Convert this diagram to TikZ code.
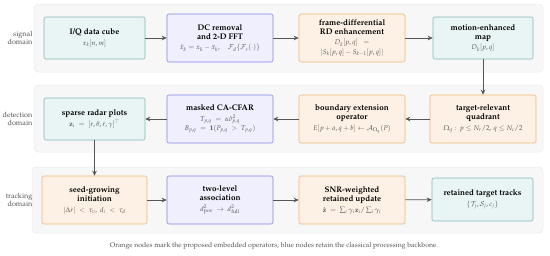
\documentclass[tikz,border=0pt]{standalone}
\usepackage[T1]{fontenc}
\usepackage{amsmath,amssymb}
\usepackage{mathpazo}
\usetikzlibrary{arrows.meta}
\definecolor{tealB}{HTML}{86B8B9}
\definecolor{tealF}{HTML}{E9F4F4}
\definecolor{purB}{HTML}{8585EE}
\definecolor{purF}{HTML}{EFEFFD}
\definecolor{orB}{HTML}{F1B57C}
\definecolor{orF}{HTML}{FDF1E5}
\definecolor{bandF}{HTML}{F7F7F7}
\definecolor{bandB}{HTML}{EAEAEA}
\definecolor{txtG}{HTML}{555555}
\definecolor{arrG}{HTML}{555555}
\tikzset{
  box/.style={rectangle, rounded corners=2pt, line width=0.6pt, align=center, inner sep=1pt,
     font=\fontsize{8.1}{9.2}\selectfont\bfseries},
  tealbox/.style={box, draw=tealB, fill=tealF},
  purbox/.style={box, draw=purB, fill=purF},
  orbox/.style={box, draw=orB, fill=orF},
  band/.style={rounded corners=4pt, draw=bandB, fill=bandF, line width=0.5pt},
  sidelab/.style={anchor=east, align=right, text=txtG, font=\fontsize{7.3}{8.5}\selectfont},
  flow/.style={draw=arrG, line width=0.8pt, -{Stealth[length=5pt,width=4.5pt]}},
}
\newcommand{\sub}[1]{{\normalfont\fontsize{6.9}{8}\selectfont\color{txtG}#1}}
\begin{document}
\begin{tikzpicture}[x=1pt,y=-1pt]
\useasboundingbox (0,0) rectangle (550,255);
% bands
\path[band] (34,4) rectangle (543,72);
\path[band] (34,85) rectangle (543,152);
\path[band] (32,167) rectangle (543,233);
% side labels
\node[sidelab] (l1) at (36,38) {signal\\domain};
\node[sidelab] (l2) at (36,119) {detection\\domain};
\node[sidelab] (l3) at (36,200) {tracking\\domain};
% row 1
\node[tealbox, minimum width=101pt, minimum height=42pt] (n1) at (94.5,38)
  {I/Q data cube\\[1pt]\sub{$x_k[n,m]$}};
\node[purbox, minimum width=106pt, minimum height=48pt] (n2) at (220,38)
  {DC removal\\and 2-D FFT\\[1.5pt]\sub{$\tilde{x}_k = x_k - \bar{x}_k,\quad \mathcal{F}_d\{\mathcal{F}_r(\cdot)\}$}};
\node[orbox, minimum width=106pt, minimum height=48pt] (n3) at (352,38)
  {frame-differential\\RD enhancement\\[1pt]\sub{$D_k[p,q] \;\;=$}\\[0.5pt]\sub{$|S_k[p,q]-S_{k-1}[p,q]|$}};
\node[tealbox, minimum width=100pt, minimum height=42pt] (n4) at (483,38)
  {motion-enhanced\\map\\[1pt]\sub{$D_k[p,q]$}};
% row 2
\node[orbox, minimum width=106pt, minimum height=48pt] (m1) at (483,119)
  {target-relevant\\quadrant\\[1.5pt]\sub{$\Omega_q:\ p\le N_r/2,\,q\le N_c/2$}};
\node[orbox, minimum width=106pt, minimum height=48pt] (m2) at (352,119)
  {boundary extension\\operator\\[1.5pt]\sub{$E[p+a,q+b]\leftarrow\mathcal{A}_{\Omega_q}(P)$}};
\node[purbox, minimum width=106pt, minimum height=48pt] (m3) at (220,119)
  {masked CA-CFAR\\[1.5pt]\sub{$T_{p,q} \;=\; \alpha\hat{\sigma}^2_{p,q}$}\\[0.5pt]\sub{$B_{p,q} \;=\; \mathbf{1}(P_{p,q} \;>\; T_{p,q})$}};
\node[tealbox, minimum width=101pt, minimum height=42pt] (m4) at (94.5,119)
  {sparse radar plots\\[1pt]\sub{$\mathbf{z}_i \;=\; [r,\theta,\dot r,\gamma]^\top$}};
% row 3
\node[orbox, minimum width=105pt, minimum height=48pt] (s1) at (94.5,200)
  {seed-growing\\initiation\\[1.5pt]\sub{$|\Delta\dot r| \;<\; \tau_v,\ d_i \;<\; \tau_d$}};
\node[purbox, minimum width=106pt, minimum height=48pt] (s2) at (220,200)
  {two-level\\association\\[1.5pt]\sub{$d^2_{\mathrm{pos}} \;\rightarrow\; d^2_{\mathrm{full}}$}};
\node[orbox, minimum width=106pt, minimum height=48pt] (s3) at (352,200)
  {SNR-weighted\\retained update\\[1.5pt]\sub{$\hat{\mathbf{z}} \;=\; \sum_i\gamma_i\mathbf{z}_i/\sum_i\gamma_i$}};
\node[tealbox, minimum width=101pt, minimum height=43pt] (s4) at (482.5,199.5)
  {retained target tracks\\[1pt]\sub{$\{\mathcal{T}_j,\mathcal{S}_j,c_j\}$}};
% connectors
\draw[flow] (n1) -- (n2);
\draw[flow] (n2) -- (n3);
\draw[flow] (n3) -- (n4);
\draw[flow] (n4) -- (m1);
\draw[flow] (m1) -- (m2);
\draw[flow] (m2) -- (m3);
\draw[flow] (m3) -- (m4);
\draw[flow] (m4) -- (s1);
\draw[flow] (s1) -- (s2);
\draw[flow] (s2) -- (s3);
\draw[flow] (s3) -- (s4);
% caption
\node[text=txtG, font=\fontsize{6.9}{8}\selectfont] (cap) at (274,245.5)
  {Orange nodes mark the proposed embedded operators; blue nodes retain the classical processing backbone.};
\end{tikzpicture}
\end{document}
